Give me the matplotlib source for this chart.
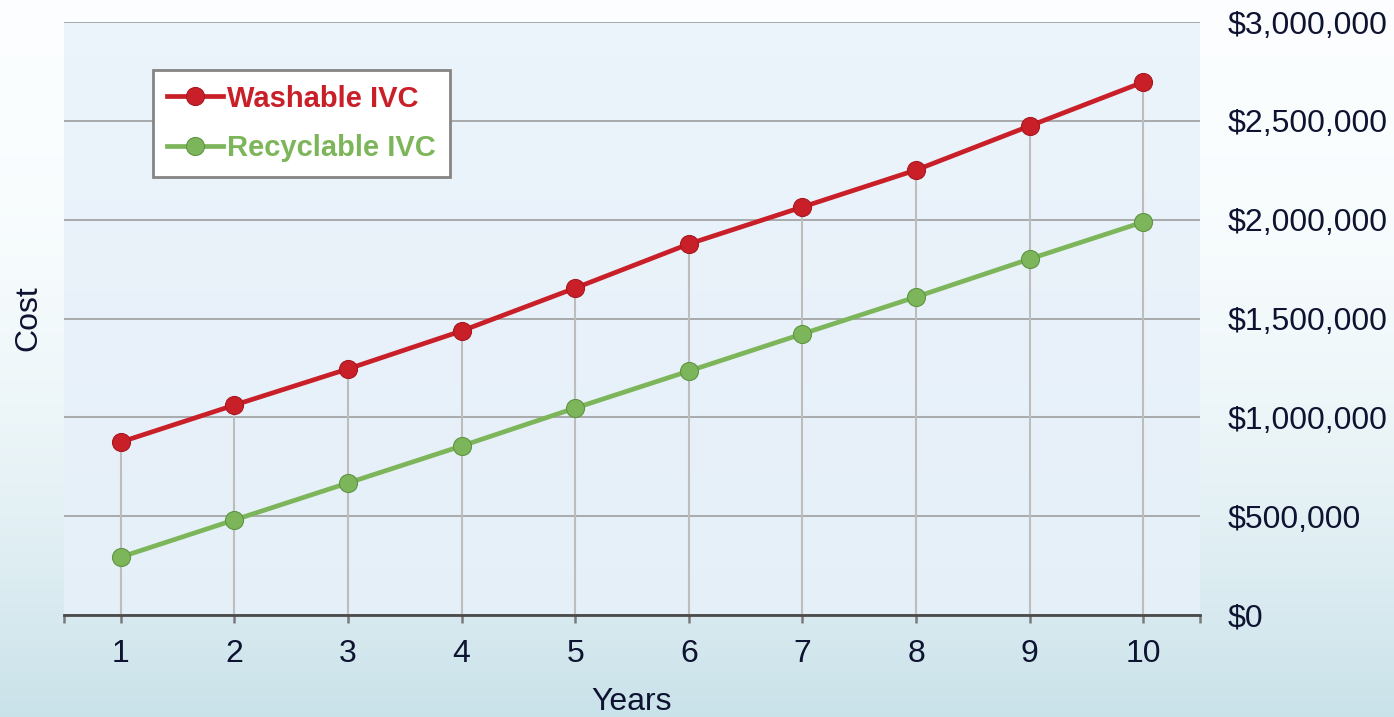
import numpy as np
import matplotlib
matplotlib.use("Agg")
import matplotlib.pyplot as plt
from matplotlib.ticker import FuncFormatter, MultipleLocator

plt.rcParams['font.family'] = ['Liberation Sans', 'DejaVu Sans']

# data
years = [1, 2, 3, 4, 5, 6, 7, 8, 9, 10]
washable = [875000, 1062000, 1245000, 1437000, 1654000, 1877000, 2064000, 2251000, 2474000, 2696000]
recyclable = [293000, 481000, 668000, 855000, 1047000, 1234000, 1422000, 1609000, 1801000, 1988000]
series_names = ["Washable IVC", "Recyclable IVC"]

red = '#c91f28'
green = '#7db65a'
text_col = '#0d1330'
fs = 23

fig = plt.figure(figsize=(13.94, 7.17), dpi=100)

# figure background gradient (white -> pale teal)
bg = fig.add_axes([0, 0, 1, 1], zorder=-10)
t = np.linspace(0, 1, 256) ** 2.2
top_c = np.array([0.985, 0.996, 1.0])
bot_c = np.array([0.79, 0.885, 0.915])
grad = top_c[None, :] * (1 - t[:, None]) + bot_c[None, :] * t[:, None]
bg.imshow(grad[:, None, :], aspect='auto', extent=[0, 1, 0, 1], origin='upper')
bg.axis('off')

ax = fig.add_axes([64 / 1394, 1 - 615 / 717, 1136 / 1394, 593 / 717])
ax.set_xlim(0.5, 10.5)
ax.set_ylim(0, 3000000)

# plot area gradient
pa_top = np.array([0.925, 0.955, 0.985])
pa_bot = np.array([0.90, 0.94, 0.972])
tt = np.linspace(0, 1, 128)
pgrad = pa_top[None, :] * (1 - tt[:, None]) + pa_bot[None, :] * tt[:, None]
ax.imshow(pgrad[:, None, :], aspect='auto', extent=[0.5, 10.5, 0, 3000000],
          origin='upper', zorder=0)

ax.yaxis.set_major_locator(MultipleLocator(500000))
ax.grid(axis='y', color='#a4a4a4', linewidth=1.3, zorder=1)
ax.set_axisbelow(True)

# drop lines from the top series down to the axis
ax.vlines(years, 0, washable, color='#bdbdbd', linewidth=1.5, zorder=2)

ax.plot(years, washable, color=red, linewidth=3.4, marker='o', markersize=13,
        markerfacecolor=red, markeredgecolor='#a8181f', markeredgewidth=0.8,
        label=series_names[0], zorder=4)
ax.plot(years, recyclable, color=green, linewidth=3.4, marker='o', markersize=13,
        markerfacecolor=green, markeredgecolor='#5f9443', markeredgewidth=0.8,
        label=series_names[1], zorder=4)

for s in ['top', 'left', 'right']:
    ax.spines[s].set_visible(False)
ax.spines['bottom'].set_color('#4a4a4a')
ax.spines['bottom'].set_linewidth(2.0)
ax.spines['bottom'].set_zorder(5)

ax.set_xticks(years)
ax.set_xticks([0.5, 10.5], minor=True)
ax.tick_params(axis='x', which='both', direction='out', length=6, width=1.8,
               color='#7a7a7a', labelsize=fs, labelcolor=text_col, pad=11)

ax.yaxis.tick_right()
ax.yaxis.set_major_formatter(FuncFormatter(lambda v, p: "${:,.0f}".format(v)))
ax.tick_params(axis='y', length=0, labelsize=fs, labelcolor=text_col, pad=20)

ax.set_xlabel("Years", fontsize=fs, color=text_col, labelpad=13)
fig.text(28 / 1394, 1 - 318 / 717, "Cost", rotation=90, fontsize=fs,
         color=text_col, ha='center', va='center')

leg = ax.legend(loc='upper left', bbox_to_anchor=(0.078, 0.919), borderaxespad=0,
                fontsize=21, frameon=True, fancybox=False, handlelength=1.9,
                handletextpad=0.15, labelspacing=0.75, borderpad=0.5)
leg.get_frame().set_edgecolor('#858585')
leg.get_frame().set_linewidth(2.0)
leg.get_frame().set_facecolor('white')
leg.get_frame().set_alpha(1)
for txt, c in zip(leg.get_texts(), [red, green]):
    txt.set_color(c)
    txt.set_fontweight('bold')

fig.savefig("out.png", dpi=100)
